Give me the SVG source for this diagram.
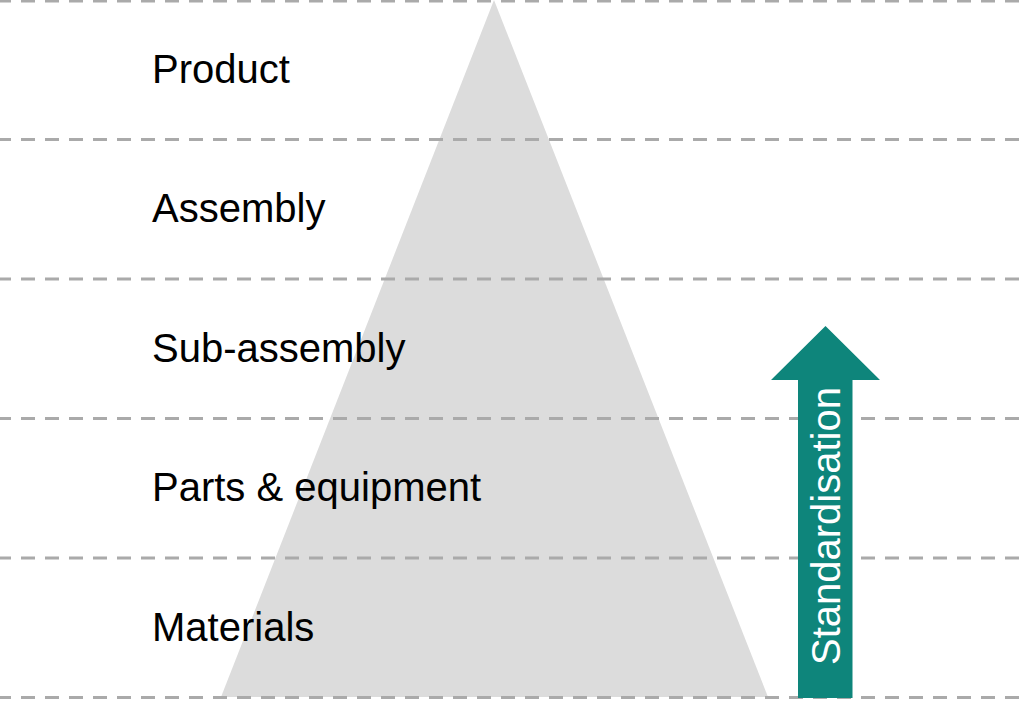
<svg xmlns="http://www.w3.org/2000/svg" width="1024" height="702" viewBox="0 0 1024 702">
<style>
.grid line{stroke:#aaaaaa;stroke-width:3;stroke-dasharray:14 10;}
.lbl{font-family:"Liberation Sans",Arial,sans-serif;font-size:40px;fill:#000000;}
.arrowtxt{font-family:"Liberation Sans",Arial,sans-serif;font-size:40px;fill:#ffffff;}
</style>
<rect width="1024" height="702" fill="#ffffff"/>
<g id="pyramid">
<polygon points="494,0 768,697 221,697" fill="#dcdcdc"/>
</g>
<g id="grid" class="grid">
<line x1="-3" y1="1" x2="1030" y2="1"/>
<line x1="-3" y1="139.5" x2="1030" y2="139.5"/>
<line x1="-3" y1="279" x2="1030" y2="279"/>
<line x1="-3" y1="418.5" x2="1030" y2="418.5"/>
<line x1="-3" y1="558" x2="1030" y2="558"/>
<line x1="-3" y1="697.5" x2="1030" y2="697.5"/>
</g>
<g id="label-product"><text class="lbl" x="152" y="83">Product</text></g>
<g id="label-assembly"><text class="lbl" x="152" y="222">Assembly</text></g>
<g id="label-subassembly"><text class="lbl" x="152" y="362">Sub-assembly</text></g>
<g id="label-parts"><text class="lbl" x="152" y="501">Parts &amp; equipment</text></g>
<g id="label-materials"><text class="lbl" x="152" y="641">Materials</text></g>
<g id="arrow-standardisation">
<polygon points="825.5,326 880,380 852.5,380 852.5,698 798,698 798,380 771,380" fill="#0e857b"/>
<text class="arrowtxt" transform="translate(840,665) rotate(-90)">Standardisation</text>
</g>
</svg>
